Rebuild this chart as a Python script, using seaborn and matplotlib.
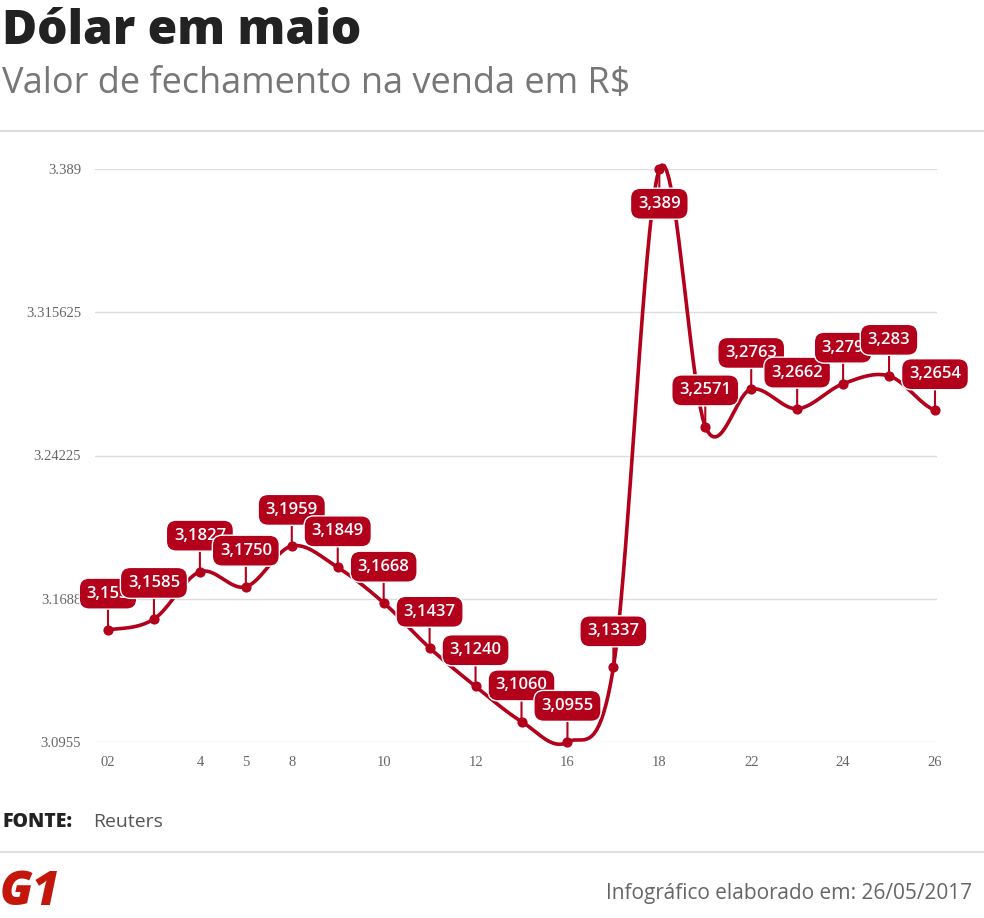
import numpy as np
import matplotlib
matplotlib.use("Agg")
import matplotlib.pyplot as plt
import seaborn as sns

# ── Data ──────────────────────────────────────────────────────────────────────
days   = ["02", "03", "04", "05", "08", "09", "10", "11", "12", "15",
          "16", "17", "18", "19", "22", "23", "24", "25", "26"]
values = [3.1530, 3.1585, 3.1827, 3.1750, 3.1959, 3.1849, 3.1668, 3.1437,
          3.1240, 3.1060, 3.0955, 3.1337, 3.3890, 3.2571, 3.2763, 3.2662,
          3.2790, 3.2830, 3.2654]
labels = ["3,153", "3,1585", "3,1827", "3,1750", "3,1959", "3,1849", "3,1668",
          "3,1437", "3,1240", "3,1060", "3,0955", "3,1337", "3,389", "3,2571",
          "3,2763", "3,2662", "3,279", "3,283", "3,2654"]
tick_idx    = [0, 2, 3, 4, 6, 8, 10, 12, 14, 16, 18]
tick_labels = ["02", "4", "5", "8", "10", "12", "16", "18", "22", "24", "26"]
y_ticks     = [3.0955, 3.1688, 3.24225, 3.315625, 3.389]
y_ticklabel = ["3.0955", "3.1688", "3.24225", "3.315625", "3.389"]

RED, GREY = "#b3001b", "#666666"
W, H = 984, 918

sns.set_style("white")
fig = plt.figure(figsize=(W / 100, H / 100), dpi=100)

# axes placed so 3.389 sits at y=169px and 3.0955 at y=742px
ax = fig.add_axes([95 / W, 1 - 742 / H, (937 - 95) / W, (742 - 169) / H])
x = np.arange(len(values))

# smooth curve (Catmull-Rom through the data points)
p = np.array(values)
pp = np.concatenate([[p[0]], p, [p[-1]]])
xs, ys = [], []
t = np.linspace(0, 1, 20)
for i in range(len(p) - 1):
    p0, p1, p2, p3 = pp[i], pp[i + 1], pp[i + 2], pp[i + 3]
    seg = 0.5 * (2 * p1 + (-p0 + p2) * t + (2 * p0 - 5 * p1 + 4 * p2 - p3) * t ** 2
                 + (-p0 + 3 * p1 - 3 * p2 + p3) * t ** 3)
    xs.extend(i + t)
    ys.extend(seg)
sns.lineplot(x=xs, y=ys, ax=ax, color=RED, lw=2.6, sort=False, clip_on=False)
ax.scatter(x, values, color=RED, s=40, zorder=3, clip_on=False)

for xi, v, lab in zip(x, values, labels):
    dy = -25 if v == max(values) else 26
    ax.annotate(lab, (xi, v), xytext=(0, dy), textcoords="offset points",
                ha="center", va="center", color="white", fontsize=12,
                fontweight="semibold", fontfamily="Open Sans", zorder=5,
                bbox=dict(boxstyle="round,pad=0.45,rounding_size=0.6", fc=RED,
                          ec="white", lw=1),
                arrowprops=dict(arrowstyle="-", color=RED, lw=1.5, shrinkA=0, shrinkB=0))

ax.set_xlim(-13 / 45.94, 18 + 2 / 45.94)
ax.set_ylim(3.0955, 3.389)
ax.set_yticks(y_ticks)
ax.set_yticklabels(y_ticklabel)
ax.set_xticks(tick_idx)
ax.set_xticklabels(tick_labels)
ax.tick_params(length=0, labelsize=10.5, colors=GREY, pad=10)
for lab in ax.get_xticklabels() + ax.get_yticklabels():
    lab.set_fontfamily("Liberation Serif")
ax.yaxis.grid(True, color="#dddddd", lw=1)
for s in ax.spines.values():
    s.set_visible(False)

# ── Titles / footer ───────────────────────────────────────────────────────────
fig.text(2 / W, 1 - 32 / H, "Dólar em maio", fontsize=34.5, fontweight="heavy",
         fontfamily="Open Sans", color="#222222", va="center")
fig.text(2 / W, 1 - 84 / H, "Valor de fechamento na venda em R$", fontsize=26,
         fontfamily="Open Sans", color="#777777", va="center")
fig.add_artist(plt.Line2D([0, 1], [1 - 131 / H] * 2, color="#dddddd", lw=1.5))
fig.add_artist(plt.Line2D([0, 1], [1 - 852 / H] * 2, color="#dddddd", lw=1.5))
fig.text(2 / W, 1 - 822 / H, "FONTE:", fontsize=14, fontweight="heavy",
         fontfamily="Open Sans", color="#222222", va="center")
fig.text(93 / W, 1 - 822 / H, "Reuters", fontsize=14,
         fontfamily="Open Sans", color="#555555", va="center")
fig.text(0 / W, 1 - 893 / H, "G1", fontsize=34, fontweight="heavy", fontstyle="italic",
         fontfamily="Open Sans", color="#c4170c", va="center")
fig.text(972 / W, 1 - 893 / H, "Infográfico elaborado em: 26/05/2017", fontsize=15,
         fontfamily="Open Sans", color="#666666", va="center", ha="right")

fig.savefig("out.png", dpi=100, facecolor="white")
